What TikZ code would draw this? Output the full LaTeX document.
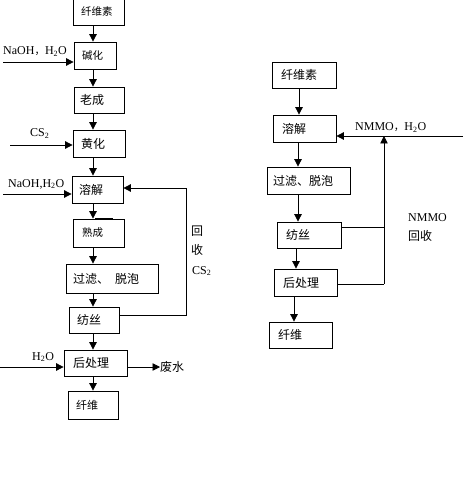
\documentclass[tikz,border=0pt]{standalone}
\usepackage{fontspec}
\setmainfont{Liberation Serif}
\newfontfamily\cjk{Noto Sans CJK SC}
\usetikzlibrary{arrows.meta}
\tikzset{
  box/.style={draw, line width=0.8pt, inner xsep=8pt, inner ysep=0pt, align=left, font=\cjk\fontsize{12}{14}\selectfont},
  small/.style={font=\cjk\fontsize{10.5}{12}\selectfont},
  arr/.style={line width=0.8pt, -{Triangle[length=7.5pt,width=7.5pt]}},
  ln/.style={line width=0.8pt},
  lbl/.style={inner sep=0pt, font=\fontsize{12}{14}\selectfont},
  clbl/.style={inner sep=0pt, font=\cjk\fontsize{12}{14}\selectfont}
}
\begin{document}
\begin{tikzpicture}[x=1pt,y=-1pt]
\useasboundingbox (0,0) rectangle (470,478);
% left column
\node[box, small, text width=35pt, minimum height=27pt] (A1) at (98.5,11.5) {纤维素};
\node[box, small, text width=26pt, minimum height=27pt] (A2) at (95,55.5) {碱化};
\node[box, text width=34pt, minimum height=26pt, inner xsep=6pt, text width=38pt] (A3) at (99,100) {老成};
\node[box, text width=36pt, minimum height=27pt] (A4) at (99,143.5) {黄化};
\node[box, text width=37pt, minimum height=27pt, inner xsep=7pt] (A5) at (97.5,189.5) {溶解};
\node[box, small, text width=33pt, minimum height=28pt, inner xsep=9pt] (A6) at (98.5,233) {熟成};
\node[box, text width=78pt, minimum height=29pt, inner xsep=7pt] (A7) at (112,278.5) {过滤、\hspace{0.5em}脱泡};
\node[box, text width=34pt, minimum height=26pt] (A8) at (94,320) {纺丝};
\node[box, text width=45pt, minimum height=26pt, inner xsep=9pt] (A9) at (95.5,363) {后处理};
\node[box, text width=34pt, minimum height=28pt, inner xsep=8pt, font=\cjk\fontsize{11}{13}\selectfont] (A10) at (93,405) {纤维};
\coordinate (xL) at (93,0);
\draw[arr] (A1.south -| xL) -- (A2.north -| xL);
\draw[arr] (A2.south -| xL) -- (A3.north -| xL);
\draw[arr] (A3.south -| xL) -- (A4.north -| xL);
\draw[arr] (A4.south -| xL) -- (A5.north -| xL);
\draw[arr] (A5.south -| xL) -- (A6.north -| xL);
\draw[arr] (A6.south -| xL) -- (A7.north -| xL);
\draw[arr] (A7.south -| xL) -- (A8.north -| xL);
\draw[arr] (A8.south -| xL) -- (A9.north -| xL);
\draw[arr] (A9.south -| xL) -- (A10.north -| xL);
\draw[line width=2pt] (95,219) -- (113,219);
% inputs
\coordinate (in1) at (3,62);
\draw[arr] (in1) -- (A2.west |- in1);
\node[lbl, anchor=base west] (l1) at (3,55) {NaOH{\cjk\fontsize{10.5}{12}\selectfont ，}H\textsubscript{2}O};
\coordinate (in2) at (10,145);
\draw[arr] (in2) -- (A4.west |- in2);
\node[lbl, anchor=base west] (l2) at (30,137) {CS\textsubscript{2}};
\coordinate (in3) at (3,194);
\draw[arr] (in3) -- (A5.west |- in3);
\node[lbl, anchor=base west] (l3) at (8,187) {NaOH,H\textsubscript{2}O};
\coordinate (in4) at (0,367);
\draw[arr] (in4) -- (A9.west |- in4);
\node[lbl, anchor=base west] (l4) at (32,360) {H\textsubscript{2}O};
\coordinate (out1) at (160,367);
\draw[arr] (A9.east |- out1) -- (out1);
\node[clbl, anchor=west] (l5) at (160,367) {废水};
% CS2 recovery
\coordinate (r1) at (186,315);
\coordinate (r2) at (186,188);
\draw[arr] (A8.east |- r1) -- (r1) -- (r2) -- (A5.east |- r2);
\node[clbl] (l6) at (197,231) {回};
\node[clbl] (l7) at (197,250) {收};
\node[lbl, anchor=base west] (l8) at (192,274) {CS\textsubscript{2}};
% right column
\node[box, text width=46pt, minimum height=26pt, inner xsep=9pt] (B1) at (304,75) {纤维素};
\node[box, text width=45pt, minimum height=27pt, inner xsep=9pt] (B2) at (304.5,128.5) {溶解};
\node[box, text width=71pt, minimum height=27pt, inner xsep=6pt] (B3) at (308.5,180.5) {过滤、脱泡};
\node[box, text width=46pt, minimum height=26pt, inner xsep=9pt] (B4) at (309,235) {纺丝};
\node[box, text width=45pt, minimum height=27pt, inner xsep=9pt] (B5) at (305.5,282.5) {后处理};
\node[box, text width=45pt, minimum height=26pt, inner xsep=9pt] (B6) at (300.5,335) {纤维};
\coordinate (x1) at (299,0);
\coordinate (x2) at (298,0);
\coordinate (x3) at (296,0);
\coordinate (x4) at (294,0);
\draw[arr] (B1.south -| x1) -- (B2.north -| x1);
\draw[arr] (B2.south -| x2) -- (B3.north -| x2);
\draw[arr] (B3.south -| x2) -- (B4.north -| x2);
\draw[arr] (B4.south -| x3) -- (B5.north -| x3);
\draw[arr] (B5.south -| x4) -- (B6.north -| x4);
\coordinate (n1) at (463,136);
\draw[arr] (n1) -- (B2.east |- n1);
\node[lbl, anchor=base west] (l9) at (355,131) {NMMO{\cjk\fontsize{10.5}{12}\selectfont ，}H\textsubscript{2}O};
\coordinate (v1) at (384,284);
\coordinate (v2) at (384,227);
\coordinate (v3) at (384,136);
\draw[ln] (B5.east |- v1) -- (v1);
\draw[ln] (B4.east |- v2) -- (v2);
\draw[arr] (v1) -- (v3);
\node[lbl, anchor=base west] (l10) at (408,221) {NMMO};
\node[clbl, anchor=west] (l11) at (408,236) {回收};
\end{tikzpicture}
\end{document}
